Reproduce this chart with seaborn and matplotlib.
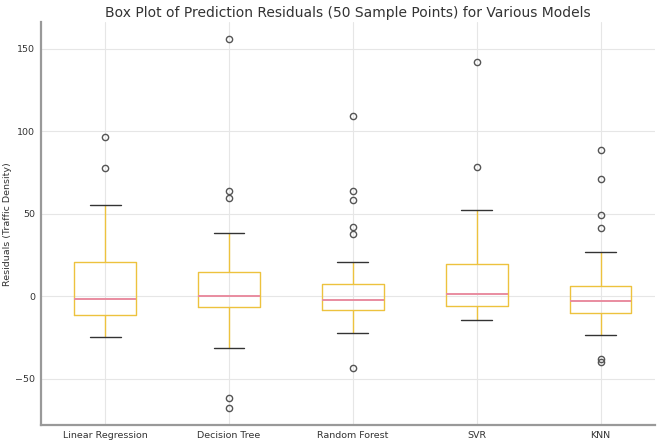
import numpy as np
import matplotlib
matplotlib.use('Agg')
import matplotlib.pyplot as plt
import seaborn as sns
import pandas as pd

models = ['Linear Regression', 'Decision Tree', 'Random Forest', 'SVR', 'KNN']

# residual samples (quartiles, whisker ends and outliers)
linear_regression = [-24.4, -19.0, -15.0, -11.5, -8.0, -5.0, -1.8, 4.0, 12.0, 20.6, 55.3, 77.8, 96.5]
decision_tree = [-67.7, -61.6, -31.3, -15.0, -6.3, -4.5, -3.0, -1.5, 0.0, 3.0, 7.0, 11.0, 14.7,
                 38.6, 59.8, 63.8, 156.0]
random_forest = [-43.6, -22.0, -18.0, -15.0, -12.0, -10.0, -8.5, -7.5, -6.5, -5.5, -4.5, -3.0, -2.0,
                 -1.0, 0.5, 2.0, 4.0, 6.0, 7.5, 20.8, 37.8, 42.0, 58.6, 63.6, 108.9]
svr = [-14.4, -11.0, -8.5, -5.9, -3.5, -1.0, 1.6, 6.0, 12.0, 19.8, 52.0, 78.2, 142.0]
knn = [-39.8, -37.8, -23.2, -18.0, -14.0, -9.9, -8.5, -7.0, -5.5, -4.0, -2.8, -1.0, 1.0,
       3.0, 5.0, 6.3, 27.1, 41.6, 49.4, 70.9, 88.7]

samples = [linear_regression, decision_tree, random_forest, svr, knn]
df = pd.DataFrame({
    'model': np.concatenate([[m] * len(s) for m, s in zip(models, samples)]),
    'residual': np.concatenate(samples),
})

sns.set_style('whitegrid')
plt.rcParams['font.family'] = ['DejaVu Sans']

fig = plt.figure(figsize=(6.57, 4.42), dpi=100)
ax = fig.add_axes([0.062, 0.038, 0.935, 0.912])

gold = '#EDC23E'
sns.boxplot(data=df, x='model', y='residual', order=models, ax=ax, fill=False,
            color=gold, width=0.5, whis=1.5, linewidth=1.0,
            boxprops=dict(color=gold, linewidth=1.0),
            whiskerprops=dict(color=gold, linewidth=1.0),
            capprops=dict(color='#333333', linewidth=1.0),
            medianprops=dict(color='#E98CA0', linewidth=1.4),
            flierprops=dict(marker='o', markersize=4.5, markerfacecolor='none',
                            markeredgecolor='#555555', markeredgewidth=1.0))

ax.set_xlim(-0.52, 4.44)
ax.set_ylim(-78, 166)
ax.set_yticks([-50, 0, 50, 100, 150])
ax.set_xlabel('')
ax.set_ylabel('Residuals (Traffic Density)', fontsize=6.8, color='#333333', labelpad=2)
ax.set_title('Box Plot of Prediction Residuals (50 Sample Points) for Various Models',
             fontsize=10, color='#333333', pad=4)
ax.tick_params(axis='both', labelsize=6.8, colors='#888888', labelcolor='#333333',
               length=2.5, width=0.8, pad=1.5)
ax.grid(True, color='#E6E6E6', linewidth=0.8)
ax.xaxis.grid(True)
for side in ['top', 'right']:
    ax.spines[side].set_visible(False)
for side in ['left', 'bottom']:
    ax.spines[side].set_color('#999999')
    ax.spines[side].set_linewidth(1.6)

fig.savefig('out.png', dpi=100)
